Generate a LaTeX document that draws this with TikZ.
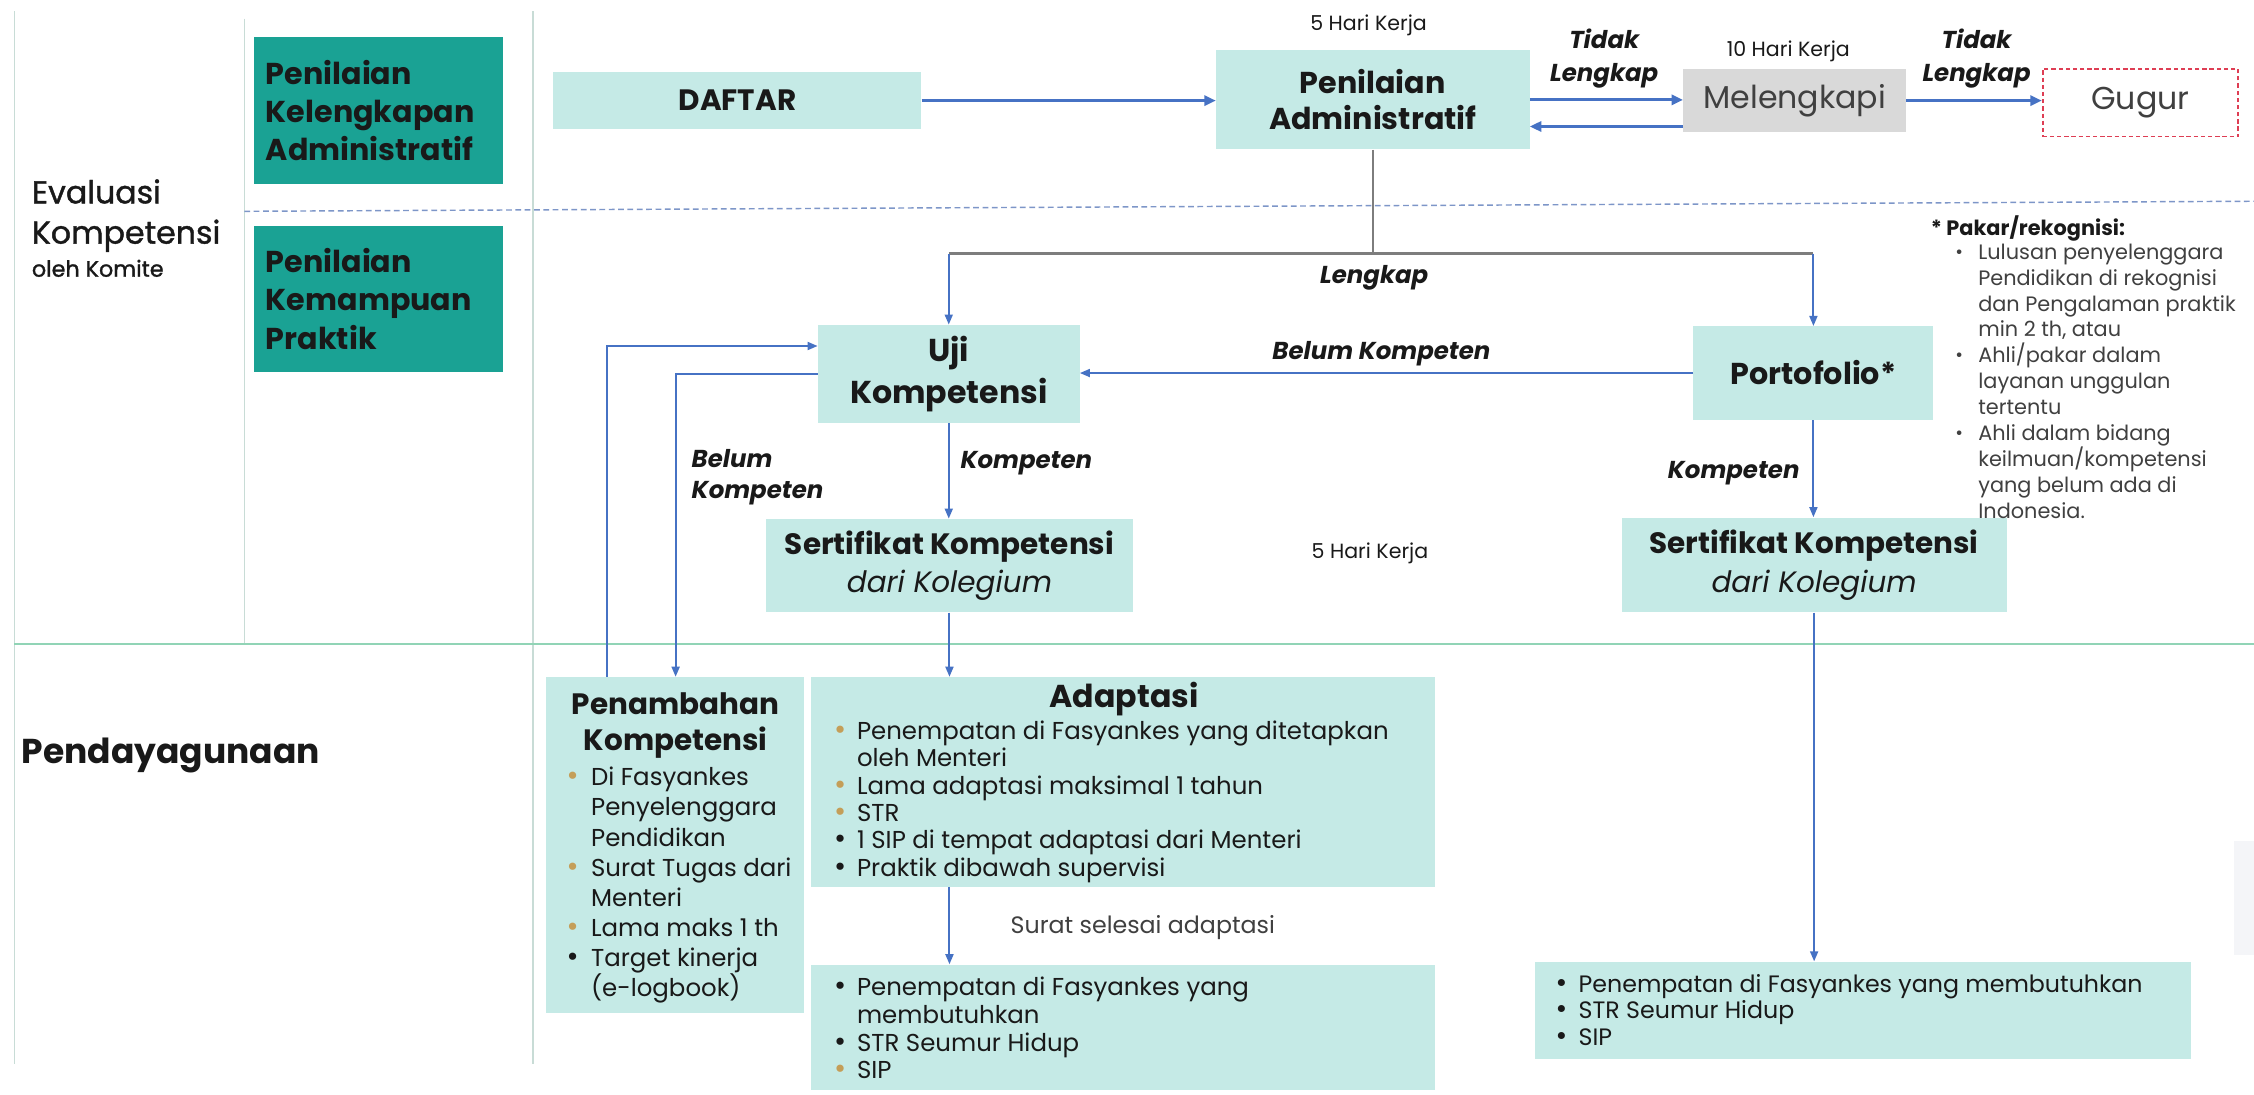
\documentclass[tikz,border=0pt]{standalone}
\usepackage{fontspec}
\setmainfont{Poppins}
\newfontfamily\medfont[FakeBold=1.2]{Poppins}
\usepackage{graphicx}
\usetikzlibrary{arrows.meta,calc}
\definecolor{cTeal}{RGB}{26,162,148}
\definecolor{cLight}{RGB}{197,234,230}
\definecolor{cGrayBox}{RGB}{217,217,217}
\definecolor{cBlue}{RGB}{70,114,196}
\definecolor{cGrayLine}{RGB}{125,125,125}
\definecolor{cFrame}{RGB}{200,220,214}
\definecolor{cGreen}{RGB}{145,212,182}
\definecolor{cDash}{RGB}{125,150,200}
\definecolor{cRed}{RGB}{222,62,84}
\definecolor{cGold}{RGB}{196,158,88}
\definecolor{cText}{RGB}{25,25,25}
\definecolor{cSoft}{RGB}{64,64,64}
\definecolor{cFaint}{RGB}{244,245,248}
\newcommand{\bu}[2]{\makebox[#2][l]{\textcolor{#1}{\scalebox{1.2}{\textbullet}}}}
\newcommand{\bs}[2]{\makebox[#2][l]{\textcolor{#1}{\raisebox{0.05em}{\scalebox{0.9}{\textbullet}}}}}
\begin{document}
\begin{tikzpicture}[x=1pt,y=-1pt,
  every node/.style={text=cText},
  tealbox/.style={fill=cTeal, inner xsep=8pt, inner ysep=0pt, text width=157pt, align=left, font=\fontsize{21}{26.5}\selectfont\bfseries},
  lightbox/.style={fill=cLight, inner sep=0pt, align=center},
  bigarr/.style={draw=cBlue, line width=2.2pt, -{Triangle[length=8pt,width=7pt]}},
  arr/.style={draw=cBlue, line width=1.4pt, -{Triangle[length=7pt,width=5.5pt]}},
  lbl/.style={font=\fontsize{17}{23}\selectfont\bfseries\itshape, align=center, inner sep=0pt},
  days/.style={font=\fontsize{14.3}{16}\selectfont, inner sep=0pt},
  listtxt/.style={anchor=north west, inner sep=0pt, align=left},
  frame/.style={draw=cFrame, line width=1.2pt},
]
\fill[white] (0,0) rectangle (1568,761.7);
\useasboundingbox (0,0) rectangle (1568,761.7);

% frame lines
\draw[frame] (10,8) -- (10,740);
\draw[frame] (170,13) -- (170,448);
\draw[frame] (371,8) -- (371,740);
\draw[draw=cGreen, line width=2pt] (10,448) -- (1568,448);
\draw[draw=cDash, line width=1pt, dash pattern=on 4pt off 2.5pt] (170,147) -- (1568,140);
\fill[cFaint] (1554,585) rectangle (1568,664);

% left column
\node[tealbox, minimum height=102pt] (lb1) at (263.5,77) {Penilaian\\Kelengkapan\\Administratif};
\node[tealbox, minimum height=102pt] (lb2) at (263.5,208) {Penilaian\\Kemampuan\\Praktik};
\node[anchor=base west, inner sep=0pt, font=\medfont\fontsize{22}{26}\selectfont] (ev1) at (22,141.5) {Evaluasi};
\node[anchor=base west, inner sep=0pt, font=\medfont\fontsize{22}{26}\selectfont] (ev2) at (22,169.5) {Kompetensi};
\node[anchor=base west, inner sep=0pt, font=\medfont\fontsize{15.5}{18}\selectfont] (ev3) at (22,192.5) {oleh Komite};
\node[anchor=base west, inner sep=0pt, font=\fontsize{24}{28}\selectfont\bfseries] (pend) at (15,531) {Pendayagunaan};

% top row
\node[lightbox, minimum width=256pt, minimum height=40pt, font=\fontsize{20.5}{25}\selectfont\bfseries] (daftar) at (513,70) {DAFTAR};
\node[lightbox, minimum width=218pt, minimum height=69pt, font=\fontsize{21}{25}\selectfont\bfseries] (pa) at (955,69.5) {Penilaian\\Administratif};
\node[fill=cGrayBox, inner sep=0pt, minimum width=155pt, minimum height=44pt, text=cSoft, font=\fontsize{22}{26}\selectfont] (mel) at (1248.5,70) {Melengkapi};
\node[draw=cRed, dash pattern=on 3pt off 2pt, line width=1.2pt, fill=white, inner sep=0pt, minimum width=136pt, minimum height=47pt, text=cSoft, font=\fontsize{22}{26}\selectfont] (gugur) at (1489,71.5) {Gugur};
\node[days] (d1) at (952,17.5) {5 Hari Kerja};
\node[days] (d2) at (1244,36) {10 Hari Kerja};
\node[lbl] (tl1) at (1116,40.5) {Tidak\\Lengkap};
\node[lbl] (tl2) at (1375,40.5) {Tidak\\Lengkap};

\draw[bigarr] (daftar.east) -- (daftar.east -| pa.west);
\draw[bigarr] (pa.east) -- (pa.east -| mel.west);
\draw[bigarr] ($(pa.east -| mel.west)+(0,18.5)$) -- ($(pa.east)+(0,18.5)$);
\draw[bigarr] (mel.east) -- (mel.east -| gugur.west);

% middle
\node[lightbox, minimum width=182pt, minimum height=68pt, font=\fontsize{22}{29}\selectfont\bfseries] (uji) at (660,260) {Uji\\Kompetensi};
\node[lightbox, minimum width=167pt, minimum height=65pt, font=\fontsize{21}{25}\selectfont\bfseries] (port) at (1261.5,259.5) {Portofolio*};
\node[lightbox, minimum width=255pt, minimum height=65pt, font=\fontsize{20.5}{27}\selectfont] (sk1) at (660.5,393.5) {\textbf{Sertifikat Kompetensi}\\\textit{dari Kolegium}};
\node[lightbox, minimum width=268pt, minimum height=66pt, font=\fontsize{20.5}{27}\selectfont] (sk2) at (1262,393) {\textbf{Sertifikat Kompetensi}\\\textit{dari Kolegium}};
\node[lbl] (lk) at (956,193) {Lengkap};
\node[lbl] (bk1) at (961,246) {Belum Kompeten};
\node[lbl, anchor=west] (kp1) at (668,322) {Kompeten};
\node[lbl, anchor=east] (kp2) at (1252,329) {Kompeten};
\node[lbl, anchor=west, align=left, font=\fontsize{17}{22}\selectfont\bfseries\itshape] (bk2) at (481,332) {Belum\\Kompeten};
\node[days] (d3) at (953,385) {5 Hari Kerja};

\coordinate (jn) at (956,176.5);
\draw[draw=cGrayLine, line width=1.2pt] (pa.south) -- (pa.south |- jn);
\draw[draw=cGrayLine, line width=2pt] (jn -| uji) -- (jn -| port);
\draw[arr] (jn -| uji) -- (uji.north);
\draw[arr] (jn -| port) -- (port.north);
\draw[arr] (port.west) -- (port.west -| uji.east);
\draw[arr] (uji.south) -- (uji.south |- sk1.north);
\draw[arr] (port.south) -- (port.south |- sk2.north);

% pakar note
\node[listtxt, font=\fontsize{14.5}{18}\selectfont\bfseries] (pakt) at (1343,150) {* Pakar/rekognisi:};
\node[listtxt, text=cSoft, font=\fontsize{14.5}{18}\selectfont] (pakl) at (1360,169.5) {\bs{cSoft}{16pt}Lulusan penyelenggara\\\hspace*{16pt}Pendidikan di rekognisi\\\hspace*{16pt}dan Pengalaman praktik\\\hspace*{16pt}min 2 th, atau\\\bs{cSoft}{16pt}Ahli/pakar dalam\\\hspace*{16pt}layanan unggulan\\\hspace*{16pt}tertentu\\\bs{cSoft}{16pt}Ahli dalam bidang\\\hspace*{16pt}keilmuan/kompetensi\\\hspace*{16pt}yang belum ada di\\\hspace*{16pt}Indonesia.};

% bottom
\node[lightbox, minimum width=179pt, minimum height=234pt] (pen) at (469.5,588) {};
\node[lightbox, minimum width=434pt, minimum height=146pt] (adap) at (781,544) {};
\node[lightbox, minimum width=434pt, minimum height=87pt] (b1) at (781,714.5) {};
\node[lightbox, minimum width=456pt, minimum height=68pt] (b2) at (1296,703) {};

\node[font=\fontsize{20.5}{25}\selectfont\bfseries, align=center, inner sep=0pt] (pent) at (470,504.5) {Penambahan\\Kompetensi};
\node[listtxt, font=\fontsize{17}{21}\selectfont] (penl) at (394,533.4) {\bu{cGold}{17pt}Di Fasyankes\\\hspace*{17pt}Penyelenggara\\\hspace*{17pt}Pendidikan\\\bu{cGold}{17pt}Surat Tugas dari\\\hspace*{17pt}Menteri\\\bu{cGold}{17pt}Lama maks 1 th\\\bu{cText}{17pt}Target kinerja\\\hspace*{17pt}(e-logbook)};

\node[font=\fontsize{22}{26}\selectfont\bfseries, inner sep=0pt] (adt) at (782,486) {Adaptasi};
\node[listtxt, font=\fontsize{17}{19}\selectfont] (adl) at (580,501.4) {\bu{cGold}{16pt}Penempatan di Fasyankes yang ditetapkan\\\hspace*{16pt}oleh Menteri\\\bu{cGold}{16pt}Lama adaptasi maksimal 1 tahun\\\bu{cGold}{16pt}STR\\\bu{cText}{16pt}1 SIP di tempat adaptasi dari Menteri\\\bu{cText}{16pt}Praktik dibawah supervisi};

\node[listtxt, font=\fontsize{17}{19.3}\selectfont] (b1l) at (580,679.4) {\bu{cText}{16pt}Penempatan di Fasyankes yang\\\hspace*{16pt}membutuhkan\\\bu{cText}{16pt}STR Seumur Hidup\\\bu{cGold}{16pt}SIP};

\node[listtxt, font=\fontsize{16.5}{18.7}\selectfont] (b2l) at (1082,677.4) {\bu{cText}{16pt}Penempatan di Fasyankes yang membutuhkan\\\bu{cText}{16pt}STR Seumur Hidup\\\bu{cText}{16pt}SIP};

\node[font=\fontsize{16.5}{18}\selectfont, text=cSoft, inner sep=0pt] (surat) at (795,645) {Surat selesai adaptasi};

\coordinate (c1) at (422,240.7);
\coordinate (c2) at (470,260);
\draw[arr] (pen.north -| c1) -- (c1) -- (c1 -| uji.west);
\draw[arr] (c2 -| uji.west) -- (c2) -- (c2 |- pen.north);
\draw[arr] (sk1.south) -- (sk1.south |- adap.north);
\draw[arr] (adap.south -| sk1.south) -- (b1.north -| sk1.south);
\draw[arr] (sk2.south) -- (sk2.south |- b2.north);
\end{tikzpicture}
\end{document}
